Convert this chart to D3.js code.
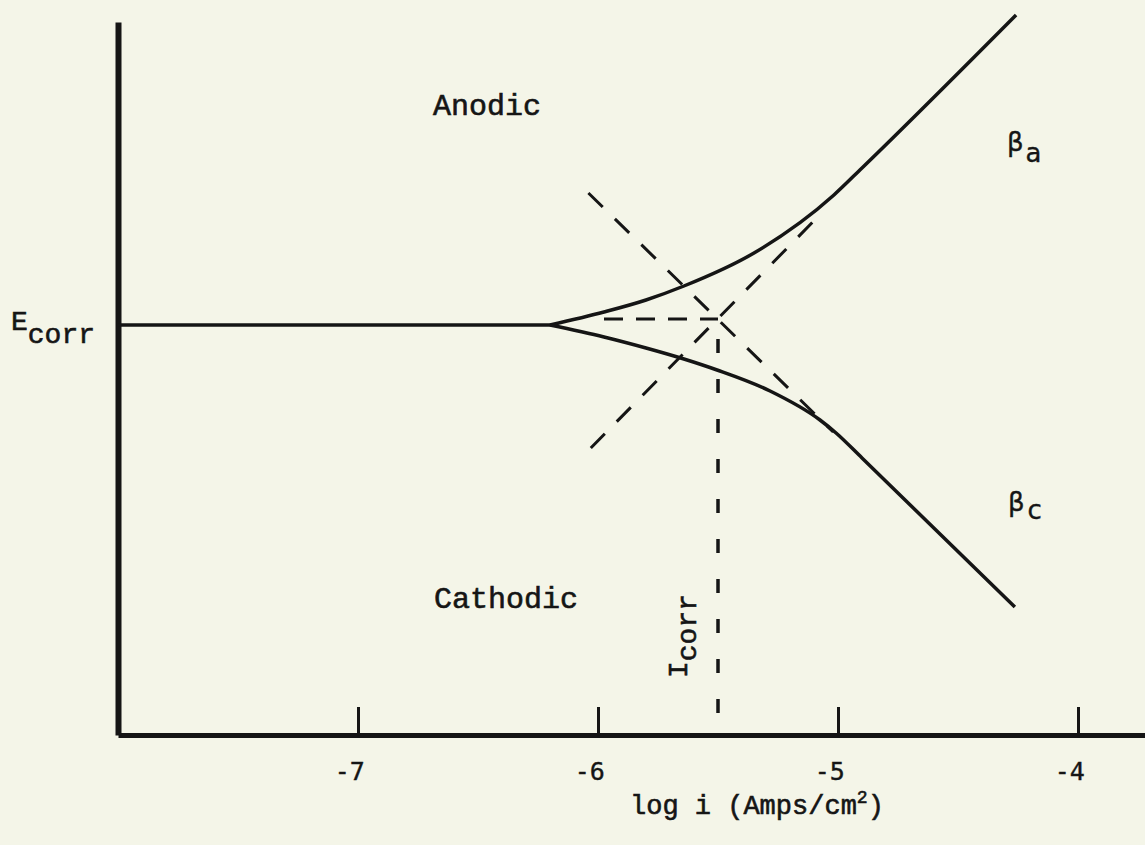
<!DOCTYPE html>
<html>
<head>
<meta charset="utf-8">
<script src="https://cdn.jsdelivr.net/npm/d3@7"></script>
<style>
body{margin:0;background:#f4f5e8;}
svg{display:block;}
</style>
</head>
<body>
<div id="box"></div>
<script>
// x: log i (Amps/cm2), y: potential relative to Ecorr (arbitrary units)
var xTicks=[-7,-6,-5,-4];
var flatLogI=[-8,-6.2];
var flatE=[0,0];
var anodicLogI=[-6.2,-5.975,-5.8,-5.642,-5.35,-5.017,-4.9,-4.258];
var anodicE=[0,13,25,39,72,130,157,310];
var cathodicLogI=[-6.2,-5.975,-5.8,-5.642,-5.504,-5.283,-5.075,-5.008,-4.9,-4.263];
var cathodicE=[0,-12,-23,-34,-45,-66,-95,-108,-133,-282];
var anodicTafelLogI=[-6.03,-5.06];
var anodicTafelE=[-123,114];
var cathodicTafelLogI=[-6.04,-5.02];
var cathodicTafelE=[132,-107];
var icorrLogI=-5.5;
var icorrE=6;

var width=1145,height=845;
var ink="#151515";
var mono="'Liberation Mono','Courier New',monospace";

var x=d3.scaleLinear().domain([-8,-3.7]).range([118,1150]);
var y=d3.scaleLinear().domain([-410,303]).range([735,22]);

var svg=d3.select("#box").append("svg")
    .attr("width",width)
    .attr("height",height)
    .style("background","#f4f5e8");

function pts(xs,ys){
    var out=[];
    for(var i=0;i<xs.length;i++){ out.push([xs[i],ys[i]]); }
    return out;
}

var smooth=d3.line().x(function(d){return x(d[0]);}).y(function(d){return y(d[1]);}).curve(d3.curveMonotoneX);
var straight=d3.line().x(function(d){return x(d[0]);}).y(function(d){return y(d[1]);});

// axes
var xAxis=d3.axisBottom(x)
    .tickValues(xTicks)
    .tickSizeInner(-28)
    .tickSizeOuter(0)
    .tickPadding(27)
    .tickFormat(function(d){return ""+d;});
var gx=svg.append("g")
    .attr("transform","translate(0,"+y(-410)+")")
    .call(xAxis);
gx.select(".domain").attr("stroke",ink).attr("stroke-width",5);
gx.selectAll(".tick line").attr("stroke",ink).attr("stroke-width",3);
gx.selectAll(".tick text")
    .attr("fill",ink)
    .attr("dx","-0.35em")
    .attr("stroke",ink).attr("stroke-width",0.4)
    .style("font-family","'DejaVu Sans Mono',monospace")
    .style("font-size","25px");

var yAxis=d3.axisLeft(y).tickValues([]).tickSizeOuter(0);
var gy=svg.append("g")
    .attr("transform","translate("+x(-8)+",0)")
    .call(yAxis);
gy.select(".domain").attr("stroke",ink).attr("stroke-width",6);

// solid curves
svg.append("path").attr("d",straight(pts(flatLogI,flatE)))
    .attr("fill","none").attr("stroke",ink).attr("stroke-width",3.5);
svg.append("path").attr("d",smooth(pts(anodicLogI,anodicE)))
    .attr("fill","none").attr("stroke",ink).attr("stroke-width",3.5);
svg.append("path").attr("d",smooth(pts(cathodicLogI,cathodicE)))
    .attr("fill","none").attr("stroke",ink).attr("stroke-width",3.5);

// dashed Tafel extrapolations
svg.append("path").attr("d",straight(pts(anodicTafelLogI,anodicTafelE)))
    .attr("fill","none").attr("stroke",ink).attr("stroke-width",3)
    .attr("stroke-dasharray","20,17");
svg.append("path").attr("d",straight(pts(cathodicTafelLogI,cathodicTafelE)))
    .attr("fill","none").attr("stroke",ink).attr("stroke-width",3)
    .attr("stroke-dasharray","20,17");
svg.append("path").attr("d",straight([[-5.975,icorrE],[icorrLogI,icorrE]]))
    .attr("fill","none").attr("stroke",ink).attr("stroke-width",3)
    .attr("stroke-dasharray","19,13");
svg.append("path").attr("d",straight([[icorrLogI,icorrE],[icorrLogI,-410]]))
    .attr("fill","none").attr("stroke",ink).attr("stroke-width",3.5)
    .attr("stroke-dasharray","14,26")
    .attr("stroke-dashoffset",-20);

// labels
function typed(sel,size){
    return sel.attr("fill",ink).attr("stroke",ink).attr("stroke-width",0.6)
        .style("font-family",mono).style("font-size",size+"px");
}
typed(svg.append("text").text("Anodic").attr("x",433).attr("y",115),30);
typed(svg.append("text").text("Cathodic").attr("x",434).attr("y",608),30);

var ec=typed(svg.append("text").attr("x",11).attr("y",y(0)+5),28);
ec.append("tspan").text("E");
ec.append("tspan").attr("dy",13).text("corr");

var ic=typed(svg.append("text").attr("transform","translate(687,678) rotate(-90)"),28);
ic.append("tspan").text("I");
ic.append("tspan").attr("dy",9).text("corr");

var ba=svg.append("text").attr("x",1007).attr("y",151)
    .attr("fill",ink).attr("stroke",ink).attr("stroke-width",0.4)
    .style("font-family","'DejaVu Sans',sans-serif").style("font-size","26px");
ba.append("tspan").text("β");
ba.append("tspan").attr("dy",11).attr("dx",2).text("a");
var bc=svg.append("text").attr("x",1008).attr("y",511)
    .attr("fill",ink).attr("stroke",ink).attr("stroke-width",0.4)
    .style("font-family","'DejaVu Sans',sans-serif").style("font-size","26px");
bc.append("tspan").text("β");
bc.append("tspan").attr("dy",8).attr("dx",3).text("c");

var tt=typed(svg.append("text").attr("x",630).attr("y",814),27);
tt.append("tspan").text("log i (Amps/cm");
tt.append("tspan").attr("dy",-11).style("font-size","18px").text("2");
tt.append("tspan").attr("dy",11).text(")");
</script>
</body>
</html>
